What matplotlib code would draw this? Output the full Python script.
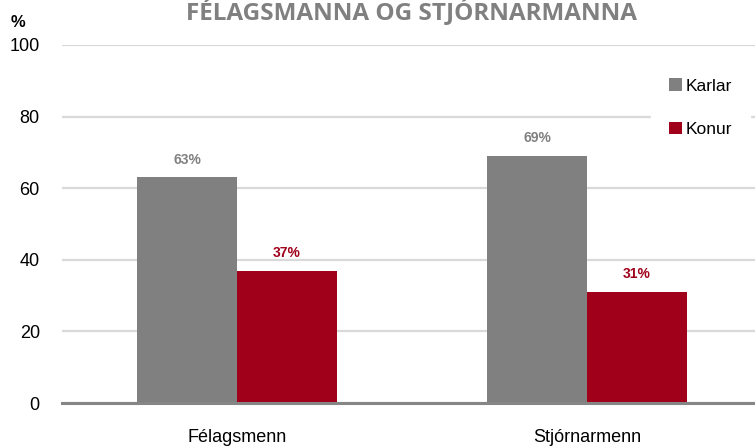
import matplotlib.pyplot as plt
import numpy as np

plt.rcParams['font.family'] = ['Liberation Sans', 'DejaVu Sans']

categories = ['Félagsmenn', 'Stjórnarmenn']
karlar = [63, 69]
konur = [37, 31]
series_names = ['Karlar', 'Konur']
yticks = [0, 20, 40, 60, 80, 100]

GRAY = '#808080'
RED = '#a0001a'

fig = plt.figure(figsize=(7.55, 4.48), dpi=100)
ax = fig.add_axes([62/755, 1-403/448, 1-62/755, (403-45)/448])

x = np.arange(len(categories))
w = 0.285
b1 = ax.bar(x - w/2, karlar, w, color=GRAY, label=series_names[0], zorder=3)
b2 = ax.bar(x + w/2, konur, w, color=RED, label=series_names[1], zorder=3)

for bars, vals, col in [(b1, karlar, GRAY), (b2, konur, RED)]:
    for r, v in zip(bars, vals):
        ax.text(r.get_x() + r.get_width()/2, v + 3, f'{v}%', ha='center', va='bottom',
                fontsize=10, fontweight='bold', color=col)

ax.set_xlim(-0.5, 1.48)
ax.set_ylim(0, 100)
ax.set_yticks(yticks)
ax.set_xticks(x)
ax.set_xticklabels(categories)
ax.tick_params(axis='y', length=0, pad=16, labelsize=13)
ax.tick_params(axis='x', length=0, pad=19, labelsize=13)
for s in ax.spines.values():
    s.set_visible(False)
ax.yaxis.grid(True, color='#d9d9d9', linewidth=1.6, zorder=0)
ax.set_axisbelow(True)
ax.axhline(0, color='#868686', linewidth=2.2, zorder=4, clip_on=False)

leg = ax.legend(loc='upper right', bbox_to_anchor=(1.0, 0.97), frameon=True, fontsize=12.5,
                handlelength=0.75, handleheight=0.75, handletextpad=0.25, labelspacing=1.6,
                borderpad=1.0, borderaxespad=0.3, fancybox=False)
leg.get_frame().set_edgecolor('white')
leg.get_frame().set_facecolor('white')
leg.get_frame().set_alpha(1)

fig.text(412/755, 1-19/448, 'FÉLAGSMANNA OG STJÓRNARMANNA', ha='center', va='baseline',
         fontsize=17.5, fontweight='bold', color=GRAY, family=['Open Sans', 'DejaVu Sans'])
fig.text(18/755, 1-27/448, '%', ha='center', va='baseline', fontsize=12, fontweight='bold')

fig.savefig('out.png', dpi=100)
